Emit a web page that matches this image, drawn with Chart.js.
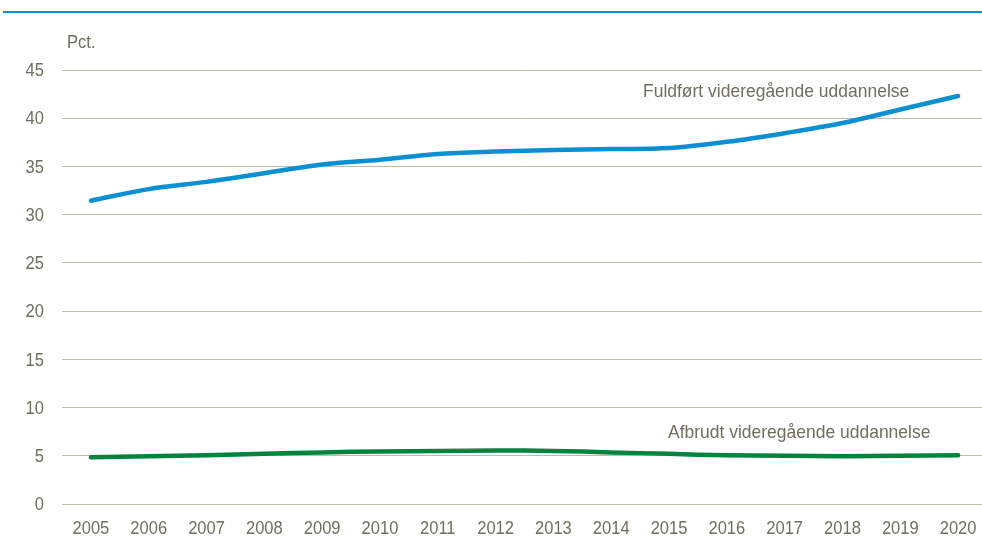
<!DOCTYPE html>
<html>
<head>
<meta charset="utf-8">
<script src="https://cdn.jsdelivr.net/npm/chart.js@4/dist/chart.umd.min.js"></script>
<style>
  html, body { margin: 0; padding: 0; background: #fff; overflow: hidden; }
  #wrap { position: relative; width: 982px; height: 539px; overflow: hidden; }
  #rule { position: absolute; left: 3px; top: 11px; width: 979px; height: 2px; background: #0a8fcf; }
  #box { position: absolute; left: 0; top: 0; width: 990px; height: 539px; }
</style>
</head>
<body>
<div id="wrap">
  <div id="rule"></div>
  <div id="box"><canvas id="c" width="990" height="539"></canvas></div>
</div>
<script>
const years = ['2005','2006','2007','2008','2009','2010','2011','2012','2013','2014','2015','2016','2017','2018','2019','2020'];
const completed = [31.45, 32.65, 33.4, 34.3, 35.2, 35.7, 36.3, 36.55, 36.7, 36.8, 36.9, 37.55, 38.45, 39.5, 40.9, 42.3];
const dropout = [4.85, 4.95, 5.05, 5.2, 5.35, 5.45, 5.5, 5.55, 5.5, 5.35, 5.2, 5.05, 5.0, 4.95, 5.0, 5.05];
const yTicks = [0, 5, 10, 15, 20, 25, 30, 35, 40, 45];
const labelCompleted = 'Fuldført videregående uddannelse';
const labelDropout = 'Afbrudt videregående uddannelse';
const unitLabel = 'Pct.';

const FONT = '"Liberation Sans", Arial, sans-serif';
const TXT = '#6f6e5f';

// draws condensed text (emulating a narrow font) at a given anchor
function narrowText(ctx, text, x, y, align, sx) {
  ctx.save();
  ctx.scale(sx, 1);
  ctx.textAlign = align;
  ctx.fillText(text, x / sx, y);
  ctx.restore();
}

const textLayer = {
  id: 'textLayer',
  afterDraw(chart) {
    const ctx = chart.ctx;
    const x = chart.scales.x, y = chart.scales.y;
    ctx.save();
    ctx.fillStyle = TXT;
    ctx.font = '19px ' + FONT;
    ctx.textBaseline = 'middle';
    // y tick labels
    y.ticks.forEach(t => narrowText(ctx, String(t.value), 44, y.getPixelForValue(t.value) + 1, 'right', 0.87));
    // x tick labels
    years.forEach((lab, i) => narrowText(ctx, lab, x.getPixelForValue(i), 529, 'center', 0.87));
    // unit
    narrowText(ctx, unitLabel, 67, 43, 'left', 0.87);
    // series labels
    ctx.textBaseline = 'alphabetic';
    narrowText(ctx, labelCompleted, 643, 97, 'left', 0.92);
    narrowText(ctx, labelDropout, 668, 438, 'left', 0.92);
    ctx.restore();
  }
};

new Chart(document.getElementById('c'), {
  type: 'line',
  data: {
    labels: years,
    datasets: [
      { label: labelCompleted, data: completed, borderColor: '#0a8fd3', borderWidth: 4.5, pointRadius: 0, tension: 0.35, borderCapStyle: 'round', fill: false },
      { label: labelDropout, data: dropout, borderColor: '#00843d', borderWidth: 4.5, pointRadius: 0, tension: 0.35, borderCapStyle: 'round', fill: false }
    ]
  },
  options: {
    responsive: false,
    animation: false,
    layout: { padding: { top: 70, right: 3, bottom: 0, left: 0 } },
    plugins: { legend: { display: false }, tooltip: { enabled: false }, title: { display: false } },
    scales: {
      x: {
        type: 'category',
        offset: true,
        grid: { display: false, drawTicks: false },
        border: { display: false },
        ticks: { display: false },
        afterFit(s) { s.height = 35; }
      },
      y: {
        min: 0, max: 45,
        afterBuildTicks(s) { s.ticks = yTicks.map(v => ({ value: v })); },
        afterFit(s) { s.width = 62; },
        grid: { color: '#bdbbab', lineWidth: 1, drawTicks: false },
        border: { display: false },
        ticks: { display: false }
      }
    }
  },
  plugins: [textLayer]
});
</script>
</body>
</html>
